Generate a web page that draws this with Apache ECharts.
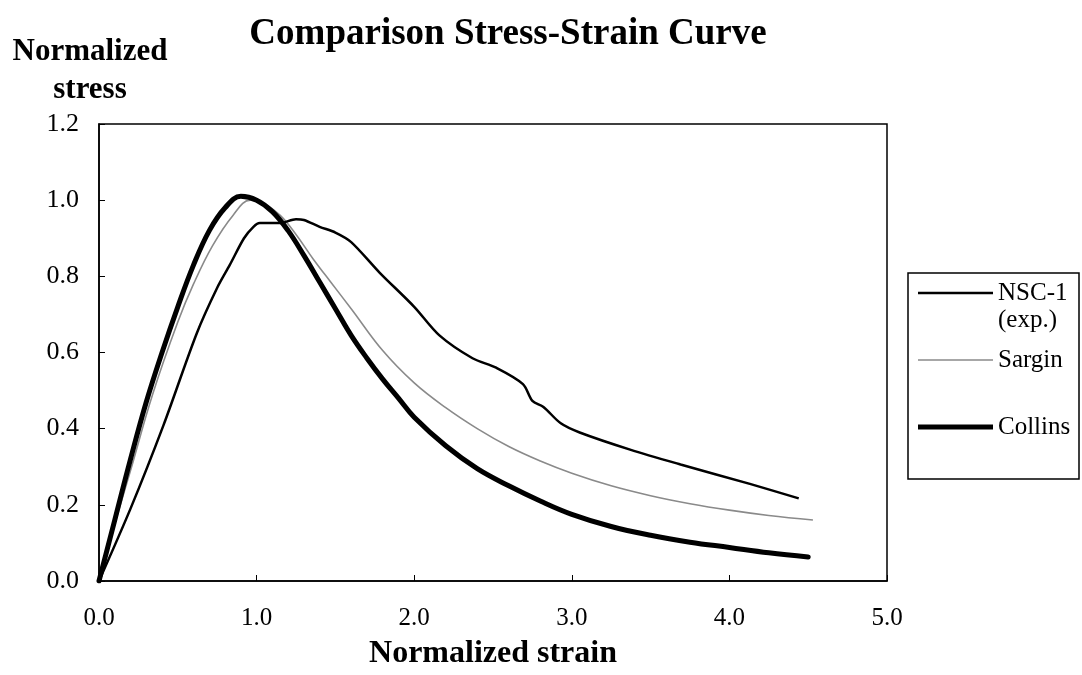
<!DOCTYPE html>
<html>
<head>
<meta charset="utf-8">
<script src="https://cdn.jsdelivr.net/npm/echarts@6/dist/echarts.min.js"></script>
<style>
  html, body { margin: 0; padding: 0; background: #fff; }
  #chart { width: 1082px; height: 675px; }
</style>
</head>
<body>
<div id="chart"></div>
<script>
// Normalized strain / normalized stress pairs for each curve
const nscStrain = [0, 0.2, 0.41, 0.62, 0.75, 0.83, 0.92, 0.98, 1.02, 1.15, 1.25, 1.30, 1.40, 1.50, 1.60, 1.78, 2.0, 2.16, 2.37, 2.52, 2.69, 2.75, 2.82, 2.93, 3.05, 3.37, 3.69, 4.13, 4.44];
const nscStress = [0, 0.19, 0.41, 0.65, 0.77, 0.83, 0.90, 0.93, 0.94, 0.94, 0.95, 0.948, 0.93, 0.915, 0.89, 0.81, 0.72, 0.645, 0.585, 0.56, 0.517, 0.473, 0.457, 0.414, 0.39, 0.345, 0.306, 0.255, 0.217];

const sarginStrain = [0, 0.1, 0.2, 0.34, 0.5, 0.6, 0.72, 0.85, 0.96, 1.05, 1.15, 1.25, 1.36, 1.47, 1.6, 1.8, 2.0, 2.2, 2.4, 2.6, 2.8, 3.0, 3.25, 3.5, 3.75, 4.0, 4.25, 4.53];
const sarginStress = [0, 0.15, 0.29, 0.49, 0.68, 0.78, 0.88, 0.96, 1.00, 0.99, 0.96, 0.91, 0.845, 0.785, 0.715, 0.605, 0.52, 0.455, 0.40, 0.353, 0.315, 0.283, 0.25, 0.224, 0.203, 0.186, 0.172, 0.16];

const collinsStrain = [0, 0.1, 0.2, 0.3, 0.4, 0.5, 0.6, 0.7, 0.8, 0.9, 1.0, 1.1, 1.2, 1.3, 1.4, 1.5, 1.6, 1.7, 1.8, 1.9, 2.0, 2.2, 2.4, 2.6, 2.8, 3.0, 3.25, 3.5, 3.75, 4.0, 4.25, 4.5];
const collinsStress = [0, 0.16, 0.32, 0.47, 0.60, 0.72, 0.83, 0.92, 0.98, 1.01, 1.00, 0.97, 0.92, 0.855, 0.785, 0.715, 0.645, 0.585, 0.53, 0.48, 0.43, 0.355, 0.295, 0.25, 0.21, 0.175, 0.143, 0.12, 0.102, 0.088, 0.074, 0.063];

const seriesNames = ['NSC-1 (exp.)', 'Sargin', 'Collins'];
const legendLabels = [' \nNSC-1\n(exp.)', 'Sargin', 'Collins'];
const xTicks = { min: 0, max: 5, step: 1 };
const yTicks = { min: 0, max: 1.2, step: 0.2 };

const pairs = (xs, ys) => xs.map((x, i) => [x, ys[i]]);
const FONT = 'Liberation Serif';

// line look per series: colour and stroke width (shared by the legend swatch)
const looks = [
  { color: '#000', width: 2.5 },
  { color: '#8a8a8a', width: 1.6 },
  { color: '#000', width: 5 }
];
// vertical centre of each legend row
const legendRowY = [293, 360, 427];
const LEGEND_LINE_H = 27;

const chart = echarts.init(document.getElementById('chart'), null, { renderer: 'canvas' });

const legends = seriesNames.map((name, i) => {
  const lines = legendLabels[i].split('\n').length;
  const blockH = lines * LEGEND_LINE_H;
  return {
    orient: 'vertical',
    left: 918,
    top: legendRowY[i] - blockH / 2,
    padding: 0,
    icon: 'rect',
    itemWidth: 75,
    itemHeight: looks[i].width,
    itemGap: 0,
    selectedMode: false,
    data: [name],
    formatter: () => legendLabels[i],
    textStyle: { fontFamily: FONT, fontSize: 25, color: '#000', lineHeight: LEGEND_LINE_H }
  };
});

chart.setOption({
  animation: false,
  backgroundColor: '#fff',
  title: {
    text: 'Comparison Stress-Strain Curve',
    left: 503,
    textAlign: 'center',
    top: 11,
    textStyle: { fontFamily: FONT, fontWeight: 'bold', fontSize: 37, color: '#000' }
  },
  grid: {
    left: 99, right: 195, top: 124, bottom: 84,
    show: true, borderColor: '#000', borderWidth: 1.5, backgroundColor: 'transparent'
  },
  graphic: [{
    type: 'rect',
    shape: { x: 908, y: 273, width: 171, height: 206 },
    style: { fill: 'none', stroke: '#000', lineWidth: 1.5 },
    z: 1
  }],
  legend: legends,
  xAxis: {
    type: 'value',
    min: xTicks.min, max: xTicks.max, interval: xTicks.step,
    name: 'Normalized strain',
    nameLocation: 'middle',
    nameGap: 57,
    nameTextStyle: { fontFamily: FONT, fontWeight: 'bold', fontSize: 32, color: '#000' },
    axisLine: { lineStyle: { color: '#000', width: 1.5 } },
    axisTick: { inside: true, length: 6, lineStyle: { color: '#000' } },
    axisLabel: {
      margin: 25,
      fontFamily: FONT, fontSize: 25, color: '#000',
      formatter: v => v.toFixed(1)
    },
    splitLine: { show: false }
  },
  yAxis: {
    type: 'value',
    min: yTicks.min, max: yTicks.max, interval: yTicks.step,
    name: 'Normalized\nstress',
    nameLocation: 'end',
    nameGap: 15,
    nameTextStyle: {
      fontFamily: FONT, fontWeight: 'bold', fontSize: 31, color: '#000',
      lineHeight: 38, align: 'center', verticalAlign: 'bottom', padding: [0, 18, 0, 0]
    },
    axisLine: { show: true, lineStyle: { color: '#000', width: 1.5 } },
    axisTick: { show: true, inside: true, length: 6, lineStyle: { color: '#000' } },
    axisLabel: {
      margin: 20,
      fontFamily: FONT, fontSize: 26, color: '#000',
      formatter: v => v.toFixed(1)
    },
    splitLine: { show: false }
  },
  series: [
    {
      name: seriesNames[0], type: 'line', symbol: 'none', smooth: 0.3,
      data: pairs(nscStrain, nscStress),
      lineStyle: { color: looks[0].color, width: looks[0].width },
      itemStyle: { color: looks[0].color },
      z: 3
    },
    {
      name: seriesNames[1], type: 'line', symbol: 'none', smooth: 0.4,
      data: pairs(sarginStrain, sarginStress),
      lineStyle: { color: looks[1].color, width: looks[1].width },
      itemStyle: { color: looks[1].color },
      z: 2
    },
    {
      name: seriesNames[2], type: 'line', symbol: 'none', smooth: 0.4,
      data: pairs(collinsStrain, collinsStress),
      lineStyle: { color: looks[2].color, width: looks[2].width, cap: 'round' },
      itemStyle: { color: looks[2].color },
      z: 4
    }
  ]
});
</script>
</body>
</html>
